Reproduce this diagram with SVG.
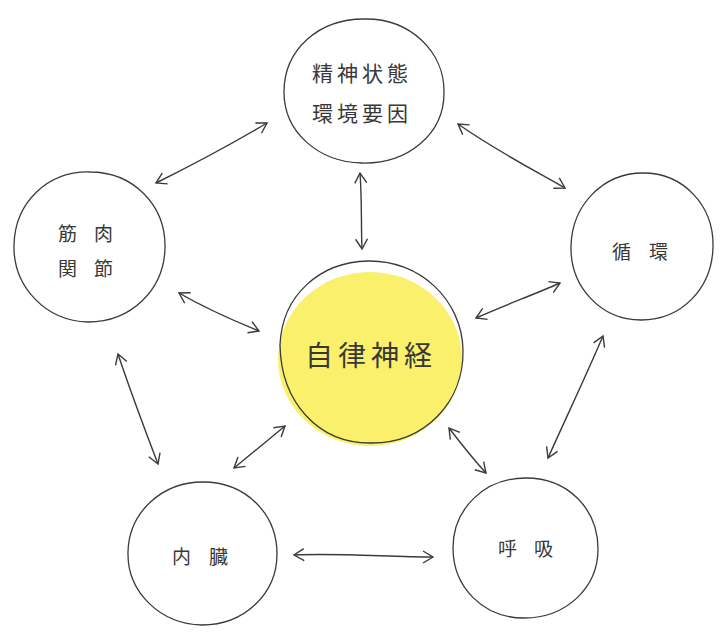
<svg xmlns="http://www.w3.org/2000/svg" width="720" height="633" viewBox="0 0 720 633">
<style>
.c{fill:none;stroke:#3a3a3a;stroke-width:1.3}
.t{font-family:"Noto Sans CJK JP","Noto Sans CJK SC",sans-serif;fill:#383838;text-anchor:start;dominant-baseline:central}
.a{fill:none;stroke:#3a3a3a;stroke-width:1.4;marker-start:url(#h);marker-end:url(#h)}
</style>
<defs>
<marker id="h" viewBox="-12 -8 14 16" refX="0" refY="0" markerWidth="14" markerHeight="16" markerUnits="userSpaceOnUse" orient="auto-start-reverse">
<path d="M-10,-6 L0,0 L-10,6" fill="none" stroke="#3a3a3a" stroke-width="1.4"/>
</marker>
</defs>
<rect width="720" height="633" fill="#fff"/>
<g id="center">
<ellipse cx="370" cy="359" rx="92" ry="87" fill="#faf06c"/>
<path class="c" d="M280,345 C282,295 320,262 368,261 C420,260 462,300 463,350 C464,402 425,443 372,443 C318,444 281,402 280,345 Z"/>
<text class="t" x="305" y="354" font-size="28" letter-spacing="5">自律神経</text>
</g>
<g id="top">
<path class="c" d="M284,92 C284,50 318,19 364,19 C410,18 445,52 444,93 C444,134 408,164 362,163 C318,162 284,132 284,92 Z"/>
<text class="t" x="312" y="72" font-size="21" letter-spacing="4">精神状態</text>
<text class="t" x="312" y="112" font-size="21" letter-spacing="4">環境要因</text>
</g>
<g id="left">
<path class="c" d="M14,245 C15,202 48,171 90,172 C134,172 166,206 165,248 C164,290 131,322 88,322 C46,321 13,287 14,245 Z"/>
<text class="t" x="58" y="232" font-size="19" letter-spacing="17">筋肉</text>
<text class="t" x="58" y="267" font-size="19" letter-spacing="17">関節</text>
</g>
<g id="right">
<path class="c" d="M571,246 C572,205 603,173 643,173 C684,173 714,206 713,247 C712,288 682,320 641,320 C601,320 570,287 571,246 Z"/>
<text class="t" x="612" y="250" font-size="19" letter-spacing="18">循環</text>
</g>
<g id="bottomleft">
<path class="c" d="M128,552 C129,512 162,482 203,482 C246,482 277,514 277,554 C277,594 244,625 202,625 C160,624 127,592 128,552 Z"/>
<text class="t" x="172" y="555" font-size="19" letter-spacing="18">内臓</text>
</g>
<g id="bottomright">
<path class="c" d="M453,548 C453,509 484,478 526,478 C568,478 598,509 598,549 C598,588 566,618 524,618 C483,618 453,587 453,548 Z"/>
<text class="t" x="498" y="547" font-size="19" letter-spacing="17">呼吸</text>
</g>
<g id="connectors">
<path class="a" d="M156,183 C190,166 230,145 267,123"/>
<path class="a" d="M458,124 C495,150 530,168 565,188"/>
<path class="a" d="M360,173 C362,200 361,225 362,249"/>
<path class="a" d="M179,293 C205,308 232,320 259,331"/>
<path class="a" d="M476,318 C505,305 533,295 560,283"/>
<path class="a" d="M118,354 C130,390 145,430 158,464"/>
<path class="a" d="M285,426 C268,440 250,455 234,468"/>
<path class="a" d="M449,428 C462,445 474,460 486,473"/>
<path class="a" d="M603,336 C585,378 565,420 548,458"/>
<path class="a" d="M294,555 C340,553 390,557 433,557"/>
</g>
</svg>
